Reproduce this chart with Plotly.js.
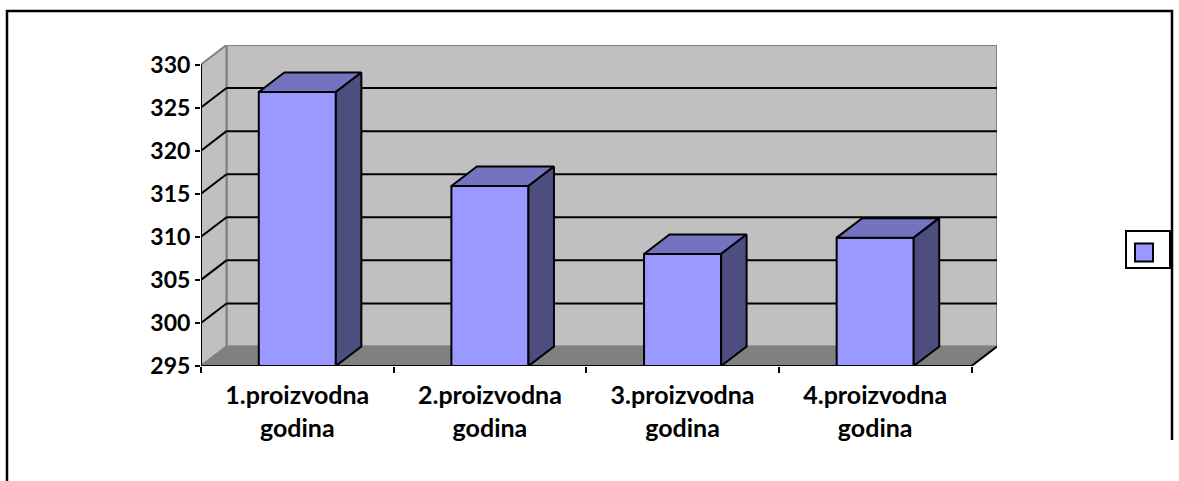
<!DOCTYPE html>
<html><head><meta charset="utf-8">
<script src="https://cdn.plot.ly/plotly-3.0.1.min.js"></script>
<style>html,body{margin:0;padding:0;background:#fff}</style>
</head><body><div id="chart" style="width:1179px;height:481px"></div>
<script>
// ---- data ----
const categories = ['1.proizvodna<br>godina', '2.proizvodna<br>godina', '3.proizvodna<br>godina', '4.proizvodna<br>godina'];
const values = [326.8, 315.9, 308.0, 309.9];
const yTicks = [295, 300, 305, 310, 315, 320, 325, 330];
const yMin = 295, yMax = 330;

// ---- geometry / style ----
const W = 1179, H = 481;
const plotL = 201, plotR = 997, plotT = 45, plotB = 366;
const depthPx = {x: 25.5, y: 19.5};
const nCat = categories.length;
const xPx = (plotR - plotL - depthPx.x) / nCat;
const dX = depthPx.x / xPx;
const yPx = (plotB - plotT - depthPx.y) / (yMax - yMin);
const dY = depthPx.y / yPx;
const barW = 0.4;
const xLo = -0.5, xHi = nCat - 0.5;
const yFont = {family: 'Lato, "Open Sans", sans-serif', size: 23, color: '#000', weight: 700};
const xFont = {family: 'Lato, "Open Sans", sans-serif', size: 25, color: '#000', weight: 700};
const cFront = '#9999FF', cTop = '#7373BF', cSide = '#4D4D80';

const idx = categories.map((c, i) => i);
const traces = [];
traces.push({
  type: 'bar', x: idx, y: values.map(v => v - yMin), base: yMin, width: barW,
  marker: {color: cFront, line: {color: '#000', width: 2}},
  hoverinfo: 'skip', showlegend: false, cliponaxis: false
});
values.forEach((v, i) => {
  const xL = i - barW / 2, xR = i + barW / 2;
  traces.push({type: 'scatter', mode: 'lines', fill: 'toself', fillcolor: cTop,
    x: [xL, xR, xR + dX, xL + dX, xL], y: [v, v, v + dY, v + dY, v],
    line: {color: '#000', width: 2}, hoverinfo: 'skip', showlegend: false, cliponaxis: false});
  traces.push({type: 'scatter', mode: 'lines', fill: 'toself', fillcolor: cSide,
    x: [xR, xR + dX, xR + dX, xR, xR], y: [yMin, yMin + dY, v + dY, v, yMin],
    line: {color: '#000', width: 2}, hoverinfo: 'skip', showlegend: false, cliponaxis: false});
});

const shapes = [];
const P = (xs, ys) => 'M' + xs.map((x, k) => x + ',' + ys[k]).join('L') + 'Z';
// back wall
shapes.push({type: 'path', layer: 'below', xref: 'x', yref: 'y',
  path: P([xLo + dX, xHi + dX, xHi + dX, xLo + dX], [yMin + dY, yMin + dY, yMax + dY, yMax + dY]),
  fillcolor: '#C0C0C0', line: {color: '#808080', width: 2}});
// left wall
shapes.push({type: 'path', layer: 'below', xref: 'x', yref: 'y',
  path: P([xLo, xLo + dX, xLo + dX, xLo], [yMin, yMin + dY, yMax + dY, yMax]),
  fillcolor: '#C0C0C0', line: {color: '#808080', width: 2}});
// gridlines
yTicks.filter(t => t > yMin && t < yMax).forEach(t => {
  shapes.push({type: 'line', layer: 'below', xref: 'x', yref: 'y', x0: xLo + dX, x1: xHi + dX, y0: t + dY, y1: t + dY, line: {color: '#000', width: 2}});
  shapes.push({type: 'line', layer: 'below', xref: 'x', yref: 'y', x0: xLo, x1: xLo + dX, y0: t, y1: t + dY, line: {color: '#000', width: 2}});
});
// floor
shapes.push({type: 'path', layer: 'below', xref: 'x', yref: 'y',
  path: P([xLo, xHi, xHi + dX, xLo + dX], [yMin, yMin, yMin + dY, yMin + dY]),
  fillcolor: '#808080', line: {color: '#808080', width: 1.5}});
shapes.push({type: 'line', xref: 'x', yref: 'y', x0: xHi, x1: xHi + dX, y0: yMin, y1: yMin + dY, line: {color: '#000', width: 2}});
// front axes lines
shapes.push({type: 'line', xref: 'x', yref: 'y', x0: xLo, x1: xHi, y0: yMin, y1: yMin, line: {color: '#000', width: 2}});
shapes.push({type: 'line', xref: 'x', yref: 'y', x0: xLo, x1: xLo, y0: yMin, y1: yMax, line: {color: '#000', width: 2}});

// paper helpers (pixel -> paper)
const px = v => (v - plotL) / (plotR - plotL);
const py = v => (plotB - v) / (plotB - plotT);
// outer frame
shapes.push({type: 'path', xref: 'paper', yref: 'paper',
  path: `M${px(7)},${py(490)}L${px(7)},${py(11)}L${px(1172)},${py(11)}L${px(1172)},${py(440)}`,
  line: {color: '#000', width: 2.5}});
// legend box
shapes.push({type: 'rect', xref: 'paper', yref: 'paper', x0: px(1126), x1: px(1170), y0: py(231), y1: py(268), line: {color: '#000', width: 2}, fillcolor: 'rgba(0,0,0,0)'});
shapes.push({type: 'rect', xref: 'paper', yref: 'paper', x0: px(1135), x1: px(1153), y0: py(243.5), y1: py(261.5), line: {color: '#000', width: 2}, fillcolor: cFront});

const layout = {
  width: W, height: H,
  margin: {l: plotL, r: W - plotR, t: plotT, b: H - plotB, pad: 0},
  paper_bgcolor: '#fff', plot_bgcolor: 'rgba(0,0,0,0)',
  showlegend: false,
  xaxis: {range: [xLo, xHi + dX], tickmode: 'array', tickvals: idx, ticktext: categories,
    ticks: '', ticklabelstandoff: 12, showgrid: false, zeroline: false, showline: false, tickfont: xFont, fixedrange: true,
    minor: {tickmode: 'array', tickvals: idx.map(i => i - 0.5).concat([xHi]), ticks: 'outside', ticklen: 6, tickwidth: 2, tickcolor: '#000', showgrid: false}},
  yaxis: {range: [yMin, yMax + dY], tickmode: 'array', tickvals: yTicks, ticks: 'outside', ticklen: 5, tickwidth: 2, tickcolor: '#000',
    showgrid: false, zeroline: false, showline: false, tickfont: yFont, fixedrange: true},
  shapes: shapes
};
Plotly.newPlot('chart', traces, layout, {staticPlot: true, displayModeBar: false});
</script>
</body></html>
